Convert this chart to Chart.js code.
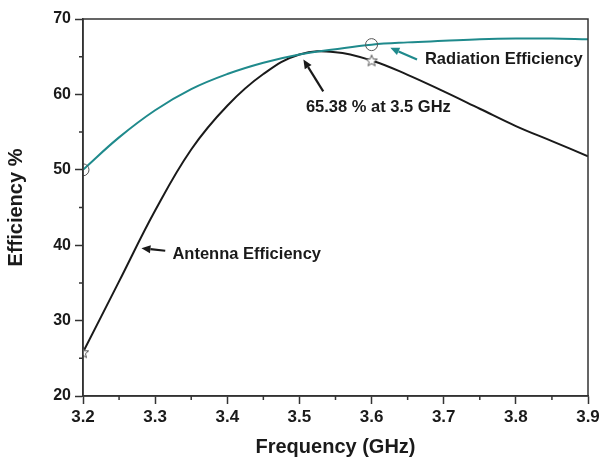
<!DOCTYPE html>
<html>
<head>
<meta charset="utf-8">
<script src="https://cdn.jsdelivr.net/npm/chart.js@4.4.1/dist/chart.umd.min.js"></script>
<style>
  html, body { margin: 0; padding: 0; background: #fff; }
  #wrap { width: 599px; height: 463px; }
</style>
</head>
<body>
<div id="wrap"><canvas id="effChart" width="599" height="463"></canvas></div>
<script>
// frequency (GHz)
const freqs = [3.20, 3.25, 3.30, 3.35, 3.40, 3.45, 3.50, 3.55, 3.60, 3.65, 3.70, 3.75, 3.80, 3.85, 3.90]
// radiation efficiency (%)
const radEff = [50.0, 54.3, 57.9, 60.7, 62.7, 64.2, 65.3, 66.0, 66.6, 66.9, 67.1, 67.3, 67.4, 67.4, 67.3]
// antenna efficiency (%)
const antEff = [25.8, 35.2, 44.6, 52.7, 58.5, 62.7, 65.3, 65.6, 64.5, 62.6, 60.4, 58.1, 55.8, 53.8, 51.8]
const markerFreqs = [3.2, 3.6]
const xTickLabels = ['3.2', '3.3', '3.4', '3.5', '3.6', '3.7', '3.8', '3.9']
const yTickLabels = ['20', '30', '40', '50', '60', '70']

const FONT = "'Liberation Sans', Arial, sans-serif"
const TEAL = '#1f8a8c'
const DARK = '#1a1a1a'
const AXIS = '#333'

// outlined star marker
const starImg = document.createElement('canvas')
starImg.width = 14; starImg.height = 14
;(() => {
    const c = starImg.getContext('2d')
    c.beginPath()
    for (let i = 0; i < 10; i++) {
        const r = i % 2 === 0 ? 6 : 2.6
        const a = -Math.PI / 2 + i * Math.PI / 5
        const px = 7 + r * Math.cos(a), py = 7.5 + r * Math.sin(a)
        i === 0 ? c.moveTo(px, py) : c.lineTo(px, py)
    }
    c.closePath()
    c.fillStyle = '#fff'
    c.fill()
    c.strokeStyle = '#555'
    c.lineWidth = 1
    c.stroke()
})()

const isMarker = (ctx) => ctx.raw && markerFreqs.some(f => Math.abs(ctx.raw.x - f) < 1e-6)

// annotations in data coordinates
const notes = [
    { text: 'Radiation Efficiency', tx: 3.674, ty: 64.7, from: [3.663, 64.62], to: [3.626, 66.18], color: TEAL },
    { text: '65.38 % at 3.5 GHz', tx: 3.509, ty: 58.25, from: [3.533, 60.41], to: [3.5055, 64.62], color: DARK },
    { text: 'Antenna Efficiency', tx: 3.324, ty: 38.73, from: [3.314, 39.26], to: [3.281, 39.6], color: DARK }
]

const notesPlugin = {
    id: 'notes',
    afterDatasetsDraw(chart) {
        const { ctx, scales: { x, y }, chartArea: a } = chart
        ctx.save()
        // box around plot
        ctx.strokeStyle = AXIS
        ctx.lineWidth = 1.5
        ctx.strokeRect(a.left, a.top, a.right - a.left, a.bottom - a.top)

        // short minor ticks
        ctx.beginPath()
        for (let i = 1; i < 14; i += 2) {
            const px = x.getPixelForValue(3.2 + i * 0.05)
            ctx.moveTo(px, a.bottom); ctx.lineTo(px, a.bottom + 4)
        }
        for (let i = 1; i < 10; i += 2) {
            const py = y.getPixelForValue(20 + i * 5)
            ctx.moveTo(a.left, py); ctx.lineTo(a.left - 4, py)
        }
        ctx.stroke()

        notes.forEach(n => {
            const x1 = x.getPixelForValue(n.from[0]), y1 = y.getPixelForValue(n.from[1])
            const x2 = x.getPixelForValue(n.to[0]), y2 = y.getPixelForValue(n.to[1])
            const ang = Math.atan2(y2 - y1, x2 - x1)
            const hl = 9, hw = 4
            const bx = x2 - hl * Math.cos(ang), by = y2 - hl * Math.sin(ang)
            ctx.strokeStyle = n.color
            ctx.fillStyle = n.color
            ctx.lineWidth = 2.2
            ctx.beginPath()
            ctx.moveTo(x1, y1)
            ctx.lineTo(bx, by)
            ctx.stroke()
            ctx.beginPath()
            ctx.moveTo(x2, y2)
            ctx.lineTo(bx + hw * Math.sin(ang), by - hw * Math.cos(ang))
            ctx.lineTo(bx - hw * Math.sin(ang), by + hw * Math.cos(ang))
            ctx.closePath()
            ctx.fill()

            ctx.fillStyle = DARK
            ctx.font = 'bold 16.5px ' + FONT
            ctx.textAlign = 'left'
            ctx.textBaseline = 'middle'
            ctx.fillText(n.text, x.getPixelForValue(n.tx), y.getPixelForValue(n.ty))
        })
        ctx.restore()
    }
}

new Chart(document.getElementById('effChart'), {
    type: 'line',
    data: {
        datasets: [{
            label: 'Radiation Efficiency',
            data: freqs.map((f, i) => ({ x: f, y: radEff[i] })),
            borderColor: TEAL,
            borderWidth: 2,
            tension: 0.4,
            pointStyle: 'circle',
            pointRadius: ctx => isMarker(ctx) ? 6 : 0,
            pointBorderColor: '#555',
            pointBorderWidth: 1,
            pointBackgroundColor: 'rgba(0,0,0,0)'
        }, {
            label: 'Antenna Efficiency',
            data: freqs.map((f, i) => ({ x: f, y: antEff[i] })),
            borderColor: DARK,
            borderWidth: 2,
            tension: 0.4,
            pointStyle: starImg,
            pointRadius: ctx => isMarker(ctx) ? 6 : 0
        }]
    },
    options: {
        responsive: false,
        animation: false,
        layout: { padding: { left: 0, top: 19, right: 11, bottom: 0 } },
        plugins: {
            legend: { display: false },
            tooltip: { enabled: false }
        },
        scales: {
            x: {
                type: 'linear',
                min: 3.2,
                max: 3.9,
                afterFit: s => { s.height = 67; s.paddingLeft = 0; s.paddingRight = 0 },
                afterBuildTicks: s => {
                    s.ticks = xTickLabels.map(t => ({ value: parseFloat(t) }))
                },
                ticks: {
                    autoSkip: false,
                    maxRotation: 0,
                    padding: 3,
                    color: DARK,
                    font: { family: FONT, size: 17, weight: 'bold' },
                    callback: (v, i) => xTickLabels[i]
                },
                grid: { drawOnChartArea: false, tickLength: 8, tickColor: AXIS, tickWidth: 1.5 },
                border: { color: AXIS, width: 1.5 },
                title: {
                    display: true,
                    text: 'Frequency (GHz)',
                    color: DARK,
                    font: { family: FONT, size: 20, weight: 'bold' },
                    padding: { top: 4, bottom: 4 }
                }
            },
            y: {
                min: 20,
                max: 70,
                afterFit: s => { s.width = 83; s.paddingTop = 0; s.paddingBottom = 0 },
                afterBuildTicks: s => {
                    s.ticks = yTickLabels.map(t => ({ value: parseFloat(t) }))
                },
                ticks: {
                    autoSkip: false,
                    padding: 4,
                    color: DARK,
                    font: { family: FONT, size: 16, weight: 'bold' },
                    callback: (v, i) => yTickLabels[i]
                },
                grid: { drawOnChartArea: false, tickLength: 8, tickColor: AXIS, tickWidth: 1.5 },
                border: { color: AXIS, width: 1.5 },
                title: {
                    display: true,
                    text: 'Efficiency %',
                    color: DARK,
                    font: { family: FONT, size: 20, weight: 'bold' },
                    padding: { top: 4, bottom: 6 }
                }
            }
        }
    },
    plugins: [notesPlugin]
});
</script>
</body>
</html>
